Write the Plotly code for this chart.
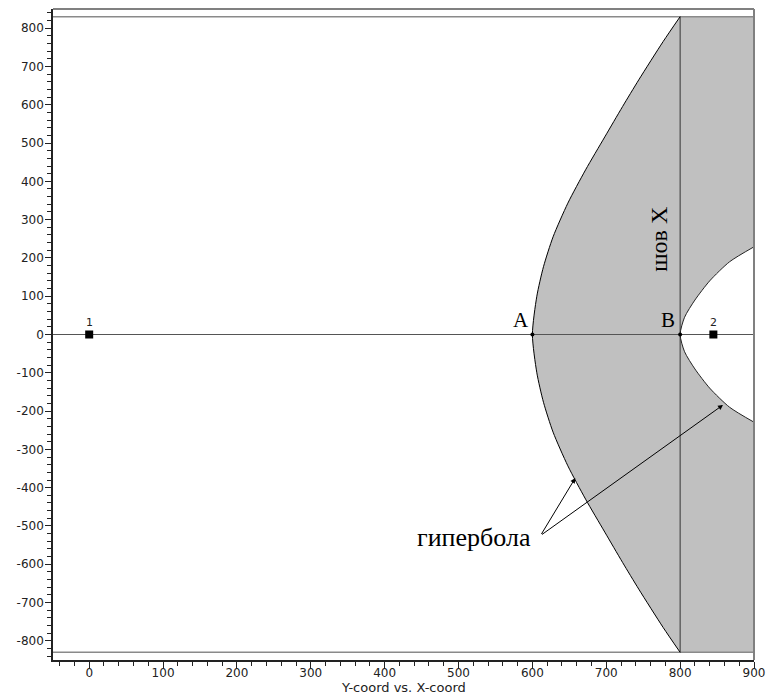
import plotly.graph_objects as go

# Left hyperbola branch (vertex A), traced from y=-830 up to y=830
left_y = [-830, -765, -665, -595, -516, -430, -343, -255, -177, -100, 0,
          100, 177, 255, 343, 430, 516, 595, 665, 765, 830]
left_x = [800, 777, 744, 722, 698, 672, 648, 628, 615, 606, 600,
          606, 615, 628, 648, 672, 698, 722, 744, 777, 800]

# Right hyperbola branch (vertex B), opening to the right
right_y = [-229, -190, -140, -90, -45, 0, 45, 90, 140, 190, 229]
right_x = [900, 867, 840, 820, 806, 800, 806, 820, 840, 867, 900]

# Boundary levels and the seam line
y_limit = 830
seam_x = 800
x_right = 900

# Station points
station_names = ["1", "2"]
station_x = [0, 845]
station_y = [0, 0]

# Vertex points
vertex_names = ["A", "B"]
vertex_x = [600, 800]
vertex_y = [0, 0]

# Axis ticks
x_tick_vals = [0, 100, 200, 300, 400, 500, 600, 700, 800, 900]
x_tick_text = ["0", "100", "200", "300", "400", "500", "600", "700", "800", "900"]
y_tick_vals = [-800, -700, -600, -500, -400, -300, -200, -100, 0,
               100, 200, 300, 400, 500, 600, 700, 800]
y_tick_text = ["-800", "-700", "-600", "-500", "-400", "-300", "-200", "-100", "0",
               "100", "200", "300", "400", "500", "600", "700", "800"]

x_range = [-49, 900]
y_range = [-850, 850]

GRAY = "#c0c0c0"
SERIF = "Liberation Serif"
SANS = "DejaVu Sans"

fig = go.Figure()

# Gray band between the left branch and the right edge
fig.add_trace(go.Scatter(x=[x_right, x_right], y=[-y_limit, y_limit], mode="lines",
                         line=dict(width=0), showlegend=False, hoverinfo="skip"))
fig.add_trace(go.Scatter(x=left_x, y=left_y, mode="lines", fill="tonextx",
                         fillcolor=GRAY, line=dict(width=0, shape="spline", smoothing=0.7),
                         showlegend=False, hoverinfo="skip"))

# White interior of the right branch
fig.add_trace(go.Scatter(x=[x_right, x_right], y=[right_y[0], right_y[-1]], mode="lines",
                         line=dict(width=0), showlegend=False, hoverinfo="skip"))
fig.add_trace(go.Scatter(x=right_x, y=right_y, mode="lines", fill="tonextx",
                         fillcolor="white", line=dict(width=0, shape="spline", smoothing=0.7),
                         showlegend=False, hoverinfo="skip"))

# Horizontal reference lines
fig.add_trace(go.Scatter(x=x_range, y=[0, 0], mode="lines",
                         line=dict(color="#555555", width=1), showlegend=False, hoverinfo="skip"))
for lv in (y_limit, -y_limit):
    fig.add_trace(go.Scatter(x=x_range, y=[lv, lv], mode="lines",
                             line=dict(color="#8a8a8a", width=1.5), showlegend=False,
                             hoverinfo="skip"))

# Seam line
fig.add_trace(go.Scatter(x=[seam_x, seam_x], y=[-y_limit, y_limit], mode="lines",
                         line=dict(color="#333333", width=1), showlegend=False, hoverinfo="skip"))

# Hyperbola outlines
fig.add_trace(go.Scatter(x=left_x, y=left_y, mode="lines",
                         line=dict(color="black", width=1, shape="spline", smoothing=0.7),
                         showlegend=False, hoverinfo="skip"))
fig.add_trace(go.Scatter(x=right_x, y=right_y, mode="lines",
                         line=dict(color="#222222", width=1, shape="spline", smoothing=0.7),
                         showlegend=False, hoverinfo="skip"))

# Stations and vertices
fig.add_trace(go.Scatter(x=station_x, y=station_y, mode="markers",
                         marker=dict(symbol="square", size=8, color="black"),
                         showlegend=False, hoverinfo="skip"))
fig.add_trace(go.Scatter(x=vertex_x, y=vertex_y, mode="markers",
                         marker=dict(size=4, color="black"),
                         showlegend=False, hoverinfo="skip"))

annotations = []
for name, sx, sy in zip(station_names, station_x, station_y):
    annotations.append(dict(x=sx, y=sy, text=name, showarrow=False, yshift=12,
                            font=dict(family=SANS, size=11, color="#222")))

annotations += [
    dict(x=585, y=38, text="A", showarrow=False, font=dict(family=SERIF, size=21, color="black")),
    dict(x=784, y=38, text="B", showarrow=False, font=dict(family=SERIF, size=21, color="black")),
    dict(x=771, y=249, text="шов X", textangle=-90, showarrow=False,
         font=dict(family=SERIF, size=24, color="black")),
    dict(x=521, y=-529, text="гипербола", showarrow=False,
         font=dict(family=SERIF, size=26, color="black")),
    dict(x=658, y=-375, ax=611, ay=-525, axref="x", ayref="y", text="", showarrow=True,
         arrowhead=2, arrowsize=1, arrowwidth=1, arrowcolor="black", standoff=0, startstandoff=0),
    dict(x=858, y=-184, ax=611, ay=-525, axref="x", ayref="y", text="", showarrow=True,
         arrowhead=2, arrowsize=1, arrowwidth=1, arrowcolor="black", standoff=0, startstandoff=0),
    dict(x=0.5, y=-0.043, xref="paper", yref="paper", text="Y-coord vs. X-coord",
         showarrow=False, yanchor="middle",
         font=dict(family=SANS, size=13, color="#222")),
]

axis_common = dict(
    showgrid=False, zeroline=False, showline=True, automargin=False,
    linecolor="#222", linewidth=1.5, ticks="outside", ticklen=6, tickwidth=1,
    tickcolor="#222", tickmode="array",
    minor=dict(ticks="outside", ticklen=4, tickwidth=1, tickcolor="#222",
               dtick=20, tick0=0, showgrid=False),
    tickfont=dict(family=SANS, size=12, color="#222"),
)

fig.update_layout(
    width=768, height=697,
    margin=dict(l=53, r=14, t=9, b=37),
    paper_bgcolor="white", plot_bgcolor="white",
    font=dict(family=SANS, size=12, color="#222"),
    annotations=annotations,
    shapes=[
        dict(type="line", xref="paper", yref="paper", x0=0, x1=1, y0=1, y1=1,
             line=dict(color="#808080", width=2)),
        dict(type="line", xref="paper", yref="paper", x0=1, x1=1, y0=0, y1=1,
             line=dict(color="#808080", width=2)),
    ],
    xaxis=dict(range=x_range, tickvals=x_tick_vals, ticktext=x_tick_text,
               ticklabelstandoff=-5, **axis_common),
    yaxis=dict(range=y_range, tickvals=y_tick_vals, ticktext=y_tick_text,
               ticklabelstandoff=-1, **axis_common),
)

fig.write_html("out.html")
